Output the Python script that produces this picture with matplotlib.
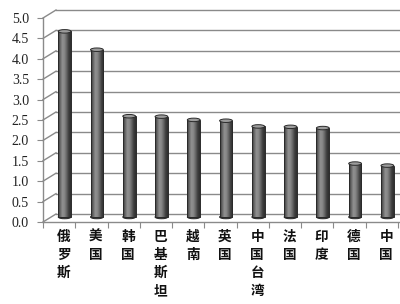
import numpy as np
import matplotlib
matplotlib.use("Agg")
import matplotlib.pyplot as plt
from matplotlib.patches import Ellipse
from matplotlib.colors import LinearSegmentedColormap

countries = ["俄罗斯", "美国", "韩国", "巴基斯坦", "越南", "英国",
             "中国台湾", "法国", "印度", "德国", "中国"]
values = [4.55, 4.10, 2.47, 2.46, 2.38, 2.36, 2.22, 2.21, 2.18, 1.31, 1.26]
yticks = np.arange(0, 5.01, 0.5)
ylabels = ["%.1f" % v for v in yticks]

grid_col = "#8a8a8a"
W, H = 400, 304

fig = plt.figure(figsize=(W / 100, H / 100), dpi=100)
fig.patch.set_facecolor("white")
# front plane of the fake 3d box
ax = fig.add_axes([43 / W, 1 - 222 / H, 355 / W, 204 / H])
ax.set_facecolor("none")
n = len(countries)
ax.set_xlim(-0.5, n - 0.5)
ax.set_ylim(0, 5)

# pixel -> data conversion for depth offsets
px_x = 355 / n
px_y = 204 / 5.0
wall_dx, wall_dy = 13 / px_x, 8 / px_y
bar_dx, bar_dy = 5.5 / px_x, 5 / px_y

# back wall grid + the diagonal side lines
for v in yticks:
    ax.plot([-0.5 + wall_dx, n + 1], [v + wall_dy, v + wall_dy],
            color=grid_col, lw=1.0, clip_on=False, zorder=1)
    ax.plot([-0.5, -0.5 + wall_dx], [v, v + wall_dy],
            color=grid_col, lw=1.0, clip_on=False, zorder=1)

# cylinders
cmap = LinearSegmentedColormap.from_list(
    "cyl", ["#333333", "#666666", "#909090", "#888888", "#666666", "#3e3e3e", "#2e2e2e"])
grad = np.linspace(0, 1, 64).reshape(1, -1)
bw = 12.8 / px_x
eh = 3.5 / px_y
xs = np.arange(n) + bar_dx
bars = ax.bar(xs, values, width=bw, bottom=bar_dy, color="none",
              edgecolor="#2a2a2a", linewidth=0.7, zorder=4)
for b, x, v in zip(bars, xs, values):
    ax.add_patch(Ellipse((x, bar_dy), bw, eh, facecolor="#3a3a3a",
                         edgecolor="#2a2a2a", lw=0.7, zorder=2))
    im = ax.imshow(grad, cmap=cmap, aspect="auto", zorder=3,
                   extent=[x - bw / 2, x + bw / 2, bar_dy, bar_dy + v])
    im.set_clip_path(b)
    ax.add_patch(Ellipse((x, bar_dy + v), bw, eh, facecolor="#9c9c9c",
                         edgecolor="#2a2a2a", lw=0.7, zorder=5))

ax.set_xlim(-0.5, n - 0.5)
ax.set_ylim(0, 5)

for s in ["top", "right"]:
    ax.spines[s].set_visible(False)
for s in ["left", "bottom"]:
    ax.spines[s].set_color(grid_col)
    ax.spines[s].set_linewidth(1.0)
ax.spines["bottom"].set_bounds(-0.5, n + 1)

ax.set_yticks(yticks)
ax.set_yticklabels(ylabels, fontfamily="Liberation Serif", fontsize=10, color="#222222")
ax.tick_params(axis="y", length=4, color=grid_col, pad=6)
ax.set_xticks(np.arange(-0.5, n, 1.0))
ax.set_xticklabels([])
ax.tick_params(axis="x", length=4.5, color=grid_col)

for i, name in enumerate(countries):
    ax.annotate("\n".join(name), xy=(i + bar_dx * 0.8, 0), xycoords=("data", "axes fraction"),
                xytext=(0, -5.5), textcoords="offset points", ha="center", va="top",
                fontfamily="Noto Sans CJK SC", fontweight="bold", fontsize=9.8,
                linespacing=1.38, color="#111111", annotation_clip=False)

fig.savefig("out.png", dpi=100, facecolor="white")
